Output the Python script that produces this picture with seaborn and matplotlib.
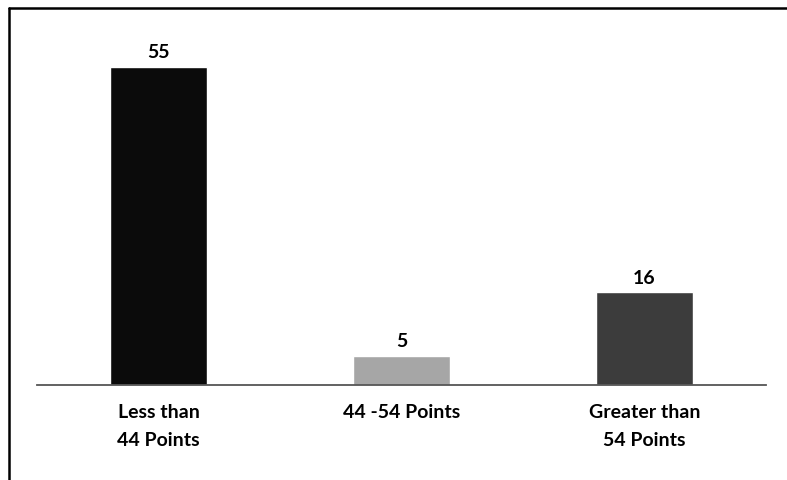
import matplotlib
matplotlib.use("Agg")
import matplotlib.pyplot as plt
from matplotlib.lines import Line2D
import pandas as pd
import seaborn as sns

categories = ["Less than\n44 Points", "44 -54 Points", "Greater than\n54 Points"]
counts = [55, 5, 16]
bar_colors = ["#0b0b0b", "#a6a6a6", "#3c3c3c"]

df = pd.DataFrame({"category": categories, "count": counts})

sns.set_style("white")
plt.rcParams["font.family"] = ["Lato", "DejaVu Sans"]
plt.rcParams["text.color"] = "black"
plt.rcParams["xtick.color"] = "black"

fig = plt.figure(figsize=(7.87, 4.80), dpi=100)
ax = fig.add_axes([0.047, 0.198, 0.926, 0.723])

sns.barplot(data=df, x="category", y="count", hue="category", palette=bar_colors,
            width=0.4, legend=False, ax=ax, saturation=1)

for i, v in enumerate(counts):
    ax.annotate(str(v), (i, v), xytext=(0, 4), textcoords="offset points",
                ha="center", va="bottom", fontsize=14, fontweight="bold", color="black")

ax.set_xlim(-0.5, 2.5)
ax.set_ylim(0, 60)
ax.set_xlabel("")
ax.set_ylabel("")
ax.set_yticks([])
ax.tick_params(axis="x", length=0, pad=14, labelsize=14, labelcolor="black")
for lab in ax.get_xticklabels():
    lab.set_fontweight("bold")
    lab.set_linespacing(1.75)
    lab.set_va("top")

for s in ["top", "right", "left"]:
    ax.spines[s].set_visible(False)
ax.spines["bottom"].set_color("#555555")
ax.spines["bottom"].set_linewidth(1.3)

# outer frame (left and top edges)
fig.add_artist(Line2D([0.011, 0.011], [0.0, 0.983], transform=fig.transFigure,
                      color="black", lw=1.8))
fig.add_artist(Line2D([0.011, 1.0], [0.983, 0.983], transform=fig.transFigure,
                      color="black", lw=1.8))

fig.savefig("out.png", dpi=100)
